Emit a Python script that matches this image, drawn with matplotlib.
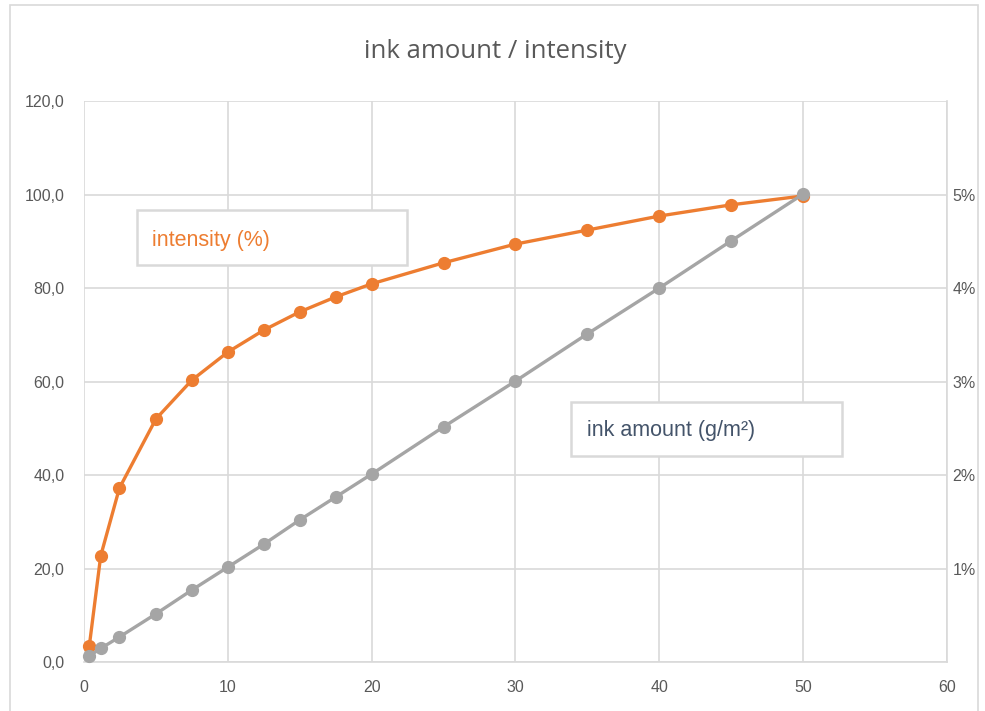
import matplotlib.pyplot as plt
from matplotlib.patches import Rectangle

# data
x_vals = [0.37, 1.16, 2.46, 5, 7.5, 10, 12.5, 15, 17.5, 20, 25, 30, 35, 40, 45, 50]
intensity = [3.5, 22.7, 37.2, 52.0, 60.3, 66.3, 71.0, 74.9, 78.1, 80.9, 85.4, 89.4, 92.4, 95.4, 97.8, 99.7]
ink_amount = [1.3, 2.9, 5.35, 10.3, 15.4, 20.3, 25.2, 30.4, 35.3, 40.2, 50.3, 60.1, 70.2, 80, 90.1, 100.1]
x_ticks = [0, 10, 20, 30, 40, 50, 60]
y_ticks = [0, 20, 40, 60, 80, 100, 120]
right_ticks = [0.01, 0.02, 0.03, 0.04, 0.05]
right_labels = ["1%", "2%", "3%", "4%", "5%"]

ORANGE = "#ED7D31"
GRAY = "#A5A5A5"
GRID = "#D9D9D9"
TXT = "#595959"

plt.rcParams['font.family'] = ['Liberation Sans', 'DejaVu Sans']

fig = plt.figure(figsize=(9.85, 7.11), dpi=100)
fig.patch.set_facecolor("white")
# outer chart border
fig.patches.append(Rectangle((0.010, -0.01), 0.983, 1.003, transform=fig.transFigure,
                             fill=False, edgecolor=GRID, linewidth=1.2))

ax = fig.add_axes([0.0853, 0.0689, 0.8761, 0.789])
ax.plot(x_vals, intensity, color=ORANGE, lw=2.4, marker="o", ms=8.5, zorder=3, clip_on=False)
ax.plot(x_vals, ink_amount, color=GRAY, lw=2.4, marker="o", ms=8.5, zorder=4, clip_on=False)

ax.set_xlim(0, 60)
ax.set_ylim(0, 120)
ax.set_xticks(x_ticks)
ax.set_yticks(y_ticks)
ax.set_yticklabels([f"{v:.1f}".replace(".", ",") for v in y_ticks])
ax.grid(True, color=GRID, lw=1.2)
ax.set_axisbelow(True)
for s in ["top", "left"]:
    ax.spines[s].set_visible(False)
ax.spines["bottom"].set_color(GRID)
ax.spines["bottom"].set_linewidth(1.2)
ax.spines["right"].set_color(GRID)
ax.spines["right"].set_linewidth(1.2)
ax.tick_params(axis="both", length=0, labelsize=11.5, colors=TXT)
ax.tick_params(axis="x", pad=13)
ax.tick_params(axis="y", pad=14)

ax2 = ax.twinx()
ax2.set_ylim(0, 0.06)
ax2.set_yticks(right_ticks)
ax2.set_yticklabels(right_labels)
ax2.tick_params(axis="y", length=0, labelsize=11.5, colors=TXT, pad=4)
for s in ax2.spines.values():
    s.set_visible(False)

# label boxes
ax.add_patch(Rectangle((0.0614, 0.708), 0.3126, 0.098, transform=ax.transAxes,
                       facecolor="white", edgecolor=GRID, lw=1.8, zorder=5))
ax.text(0.0788, 0.752, "intensity (%)", transform=ax.transAxes, color=ORANGE,
        fontsize=15.5, va="center", ha="left", zorder=6)
ax.add_patch(Rectangle((0.564, 0.367), 0.314, 0.096, transform=ax.transAxes,
                       facecolor="white", edgecolor=GRID, lw=1.8, zorder=5))
ax.text(0.583, 0.4135, "ink amount (g/m²)", transform=ax.transAxes, color="#44546A",
        fontsize=15.5, va="center", ha="left", zorder=6)

fig.text(0.503, 0.928, "ink amount / intensity", ha="center", va="center",
         fontsize=18.5, color=TXT, family=["Open Sans", "DejaVu Sans"])

fig.savefig("out.png", dpi=100)
